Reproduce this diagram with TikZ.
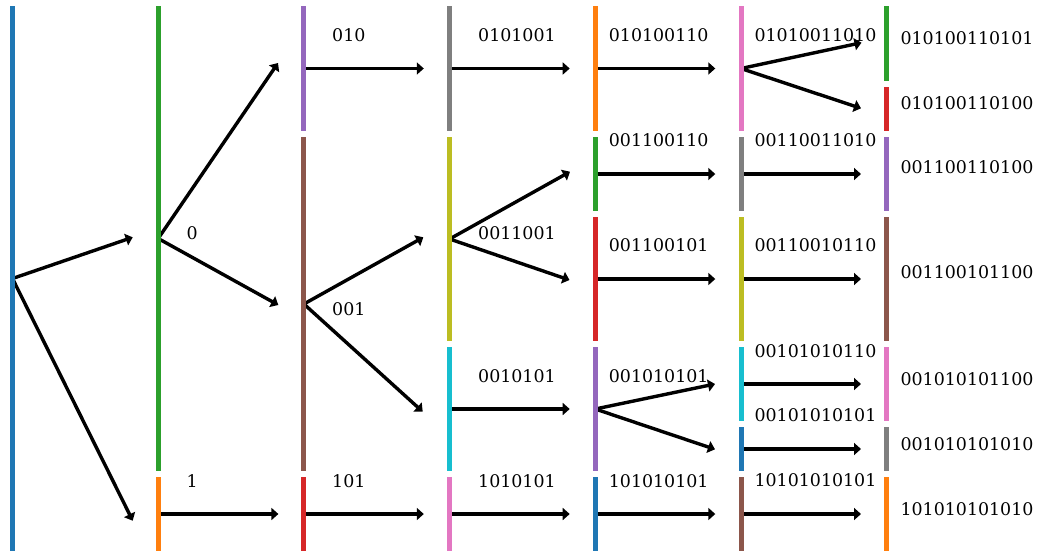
\documentclass[tikz,border=0pt]{standalone}
\usepackage{fontspec}
\setmainfont{DejaVu Serif}
\usetikzlibrary{arrows.meta,backgrounds}

\definecolor{tabblue}{HTML}{1F77B4}
\definecolor{taborange}{HTML}{FF7F0E}
\definecolor{tabgreen}{HTML}{2CA02C}
\definecolor{tabred}{HTML}{D62728}
\definecolor{tabpurple}{HTML}{9467BD}
\definecolor{tabbrown}{HTML}{8C564B}
\definecolor{tabpink}{HTML}{E377C2}
\definecolor{tabgray}{HTML}{7F7F7F}
\definecolor{tabolive}{HTML}{BCBD22}
\definecolor{tabcyan}{HTML}{17BECF}

\tikzset{
  bar/.style={rectangle, inner sep=0pt, outer sep=0pt, minimum width=2.5pt, fill=#1, draw=none},
  arr/.style={line width=1.7pt, -{Triangle[length=3.5pt,width=6pt]}},
  lbl/.style={anchor=base west, inner sep=0pt, outer sep=0pt, font=\fontsize{8.7pt}{10pt}\selectfont},
}

% one coloured segment: name, colour, x, top, bottom (in pixel units)
\newcommand{\seg}[5]{\node[bar=#2, minimum height={(#5-#4)*0.5pt}] (#1) at (#3, {(#4+#5)/2}) {};}

\begin{document}
\begin{tikzpicture}[x=0.5pt, y=-0.5pt]
\useasboundingbox (0,0) rectangle (1039,553);

% column 0
\seg{b0}{tabblue}{12.5}{6}{551}
% column 1
\seg{b1a}{tabgreen}{158.2}{6}{471}
\seg{b1b}{taborange}{158.2}{477}{551}
% column 2
\seg{b2a}{tabpurple}{303.9}{6}{131}
\seg{b2b}{tabbrown}{303.9}{137}{471}
\seg{b2c}{tabred}{303.9}{477}{551}
% column 3
\seg{b3a}{tabgray}{449.6}{6}{131}
\seg{b3b}{tabolive}{449.6}{137}{341}
\seg{b3c}{tabcyan}{449.6}{347}{471}
\seg{b3d}{tabpink}{449.6}{477}{551}
% column 4
\seg{b4a}{taborange}{595.3}{6}{131}
\seg{b4b}{tabgreen}{595.3}{137}{211}
\seg{b4c}{tabred}{595.3}{217}{341}
\seg{b4d}{tabpurple}{595.3}{347}{471}
\seg{b4e}{tabblue}{595.3}{477}{551}
% column 5
\seg{b5a}{tabpink}{741}{6}{131}
\seg{b5b}{tabgray}{741}{137}{211}
\seg{b5c}{tabolive}{741}{217}{341}
\seg{b5d}{tabcyan}{741}{347}{421}
\seg{b5e}{tabblue}{741}{427}{471}
\seg{b5f}{tabbrown}{741}{477}{551}
% column 6
\seg{b6a}{tabgreen}{886.7}{6}{81}
\seg{b6b}{tabred}{886.7}{87}{131}
\seg{b6c}{tabpurple}{886.7}{137}{211}
\seg{b6d}{tabbrown}{886.7}{217}{341}
\seg{b6e}{tabpink}{886.7}{347}{421}
\seg{b6f}{tabgray}{886.7}{427}{471}
\seg{b6g}{taborange}{886.7}{477}{551}

% arrow tips
\coordinate (t1a) at (132.7,237.3);
\coordinate (t1b) at (132.7,520.7);
\coordinate (t2a) at (278,63);
\coordinate (t2b) at (278.3,305);
\coordinate (t2c) at (278.4,514);
\coordinate (t3a) at (423.8,68.5);
\coordinate (t3b) at (423.3,237.3);
\coordinate (t3c) at (422.7,411.7);
\coordinate (t3d) at (423.8,514);
\coordinate (t4a) at (569.7,68.5);
\coordinate (t4b) at (570,171.7);
\coordinate (t4c) at (569.5,280);
\coordinate (t4d) at (569.7,409);
\coordinate (t4e) at (569.7,514);
\coordinate (t5a) at (715.3,68.5);
\coordinate (t5b) at (715.3,174);
\coordinate (t5c) at (715.3,279);
\coordinate (t5d) at (715,384);
\coordinate (t5e) at (715,449.3);
\coordinate (t5f) at (715.3,514);
\coordinate (t6a) at (861.5,42.7);
\coordinate (t6b) at (861,108.3);
\coordinate (t6c) at (861,174);
\coordinate (t6d) at (861,279);
\coordinate (t6e) at (861,384);
\coordinate (t6f) at (861,449);
\coordinate (t6g) at (861,514);

\begin{scope}[on background layer]
  \draw[arr] (b0.center) -- (t1a);
  \draw[arr] (b0.center) -- (t1b);
  \draw[arr] (b1a.center) -- (t2a);
  \draw[arr] (b1a.center) -- (t2b);
  \draw[arr] (b1b.center) -- (t2c);
  \draw[arr] (b2a.center) -- (t3a);
  \draw[arr] (b2b.center) -- (t3b);
  \draw[arr] (b2b.center) -- (t3c);
  \draw[arr] (b2c.center) -- (t3d);
  \draw[arr] (b3a.center) -- (t4a);
  \draw[arr] (b3b.center) -- (t4b);
  \draw[arr] (b3b.center) -- (t4c);
  \draw[arr] (b3c.center) -- (t4d);
  \draw[arr] (b3d.center) -- (t4e);
  \draw[arr] (b4a.center) -- (t5a);
  \draw[arr] (b4b.center) -- (t5b);
  \draw[arr] (b4c.center) -- (t5c);
  \draw[arr] (b4d.center) -- (t5d);
  \draw[arr] (b4d.center) -- (t5e);
  \draw[arr] (b4e.center) -- (t5f);
  \draw[arr] (b5a.center) -- (t6a);
  \draw[arr] (b5a.center) -- (t6b);
  \draw[arr] (b5b.center) -- (t6c);
  \draw[arr] (b5c.center) -- (t6d);
  \draw[arr] (b5d.center) -- (t6e);
  \draw[arr] (b5e.center) -- (t6f);
  \draw[arr] (b5f.center) -- (t6g);
\end{scope}

% labels
\node[lbl] (l1a) at (186.6,239.3) {0};
\node[lbl] (l1b) at (186.6,487.3) {1};
\node[lbl] (l2a) at (332.2,41.7) {010};
\node[lbl] (l2b) at (332.2,315) {001};
\node[lbl] (l2c) at (332.2,487.3) {101};
\node[lbl] (l3a) at (478.2,41.7) {0101001};
\node[lbl] (l3b) at (478.2,239.3) {0011001};
\node[lbl] (l3c) at (478.2,382) {0010101};
\node[lbl] (l3d) at (478.2,487.3) {1010101};
\node[lbl] (l4a) at (608.9,41.7) {010100110};
\node[lbl] (l4b) at (608.9,146.7) {001100110};
\node[lbl] (l4c) at (608.9,251.7) {001100101};
\node[lbl] (l4d) at (608.9,382) {001010101};
\node[lbl] (l4e) at (608.9,487.3) {101010101};
\node[lbl] (l5a) at (754.6,41.7) {01010011010};
\node[lbl] (l5b) at (754.6,146.7) {00110011010};
\node[lbl] (l5c) at (754.6,251.7) {00110010110};
\node[lbl] (l5d) at (754.6,357.3) {00101010110};
\node[lbl] (l5e) at (754.6,421.7) {00101010101};
\node[lbl] (l5f) at (754.6,486.7) {10101010101};
\node[lbl] (l6a) at (900.6,44) {010100110101};
\node[lbl] (l6b) at (900.6,109.3) {010100110100};
\node[lbl] (l6c) at (900.6,173.3) {001100110100};
\node[lbl] (l6d) at (900.6,278.5) {001100101100};
\node[lbl] (l6e) at (900.6,385) {001010101100};
\node[lbl] (l6f) at (900.6,450) {001010101010};
\node[lbl] (l6g) at (900.6,515) {101010101010};
\end{tikzpicture}
\end{document}
